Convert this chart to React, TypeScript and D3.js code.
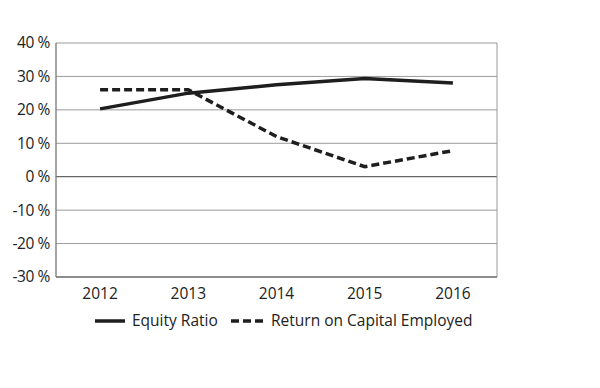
import React from 'react'
import { scaleBand, scaleLinear, line } from 'd3'

const years = ['2012', '2013', '2014', '2015', '2016']
const equityRatio = [20.3, 25, 27.5, 29.4, 28]
const roce = [26, 26, 12, 3, 7.8]
const yTicks = [40, 30, 20, 10, 0, -10, -20, -30]

const M = { top: 43, left: 56, right: 103, bottom: 111 }
const W = 600
const H = 388
const FONT = '"Open Sans", sans-serif'

export default function App() {
  const gw = W - M.left - M.right
  const gh = H - M.top - M.bottom
  const x = scaleBand().domain(years).range([0, gw])
  const y = scaleLinear().domain([-30, 40]).range([gh, 0])
  const mk = line<number>()
    .x((_, i) => (x(years[i]) ?? 0) + x.bandwidth() / 2)
    .y((d) => y(d))

  return (
    <svg width={W} height={H} style={{ position: 'absolute', left: 0, top: 0, background: '#fff' }}>
      <g transform={`translate(${M.left},${M.top})`}>
        {yTicks.map((t) => (
          <g key={t}>
            <line x1={0} x2={gw} y1={y(t)} y2={y(t)} stroke={t === 0 ? '#666' : '#9a9a9a'} strokeWidth={t === 0 ? 1.3 : 1} />
            <text x={-6} y={y(t)} dy="0.35em" textAnchor="end" fontFamily={FONT} fontSize={15.5} fill="#222" letterSpacing={-0.4}>
              {t} %
            </text>
          </g>
        ))}
        <line x1={0} x2={0} y1={0} y2={gh} stroke="#777" strokeWidth={1.3} />
        <line x1={gw} x2={gw} y1={0} y2={gh} stroke="#9a9a9a" strokeWidth={1} />
        <line x1={0} x2={gw} y1={gh} y2={gh} stroke="#777" strokeWidth={1.3} />
        {years.map((yr) => (
          <text key={yr} x={(x(yr) ?? 0) + x.bandwidth() / 2} y={gh + 22} textAnchor="middle" fontFamily={FONT} fontSize={15.5} fill="#222">
            {yr}
          </text>
        ))}
        <path d={mk(equityRatio) || ''} fill="none" stroke="#1e1e1e" strokeWidth={3.5} />
        <path d={mk(roce) || ''} fill="none" stroke="#1e1e1e" strokeWidth={3.5} strokeDasharray="8 4" />
      </g>
      <g transform="translate(0,321)" fontFamily={FONT} fontSize={15.5} fill="#222">
        <line x1={95} x2={125} y1={0} y2={0} stroke="#1e1e1e" strokeWidth={3.5} />
        <text x={132} y={0} dy="0.35em">Equity Ratio</text>
        <line x1={231} x2={263} y1={0} y2={0} stroke="#1e1e1e" strokeWidth={3.5} strokeDasharray="8 4" />
        <text x={271} y={0} dy="0.35em">Return on Capital Employed</text>
      </g>
    </svg>
  )
}
